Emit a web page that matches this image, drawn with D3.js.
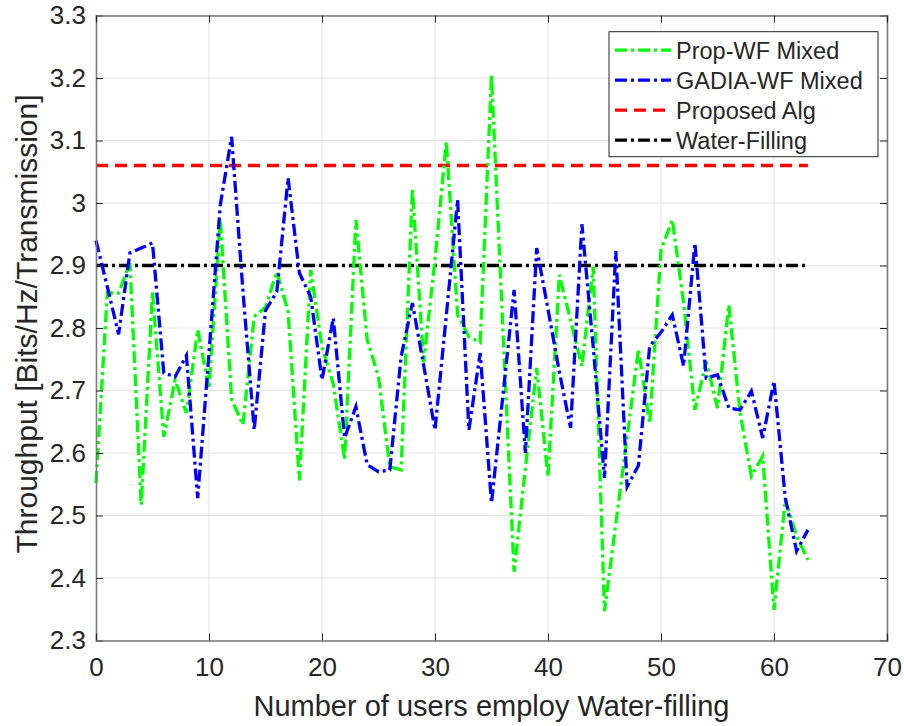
<!DOCTYPE html>
<html>
<head>
<meta charset="utf-8">
<script src="https://cdn.jsdelivr.net/npm/d3@7"></script>
<style>
  body { margin: 0; background: #fff; }
  text { font-family: "Liberation Sans", Arial, Helvetica, sans-serif; fill: #262626; }
</style>
</head>
<body>
<div id="chart"></div>
<script>
// data
var users = d3.range(0, 64);
var propWF = [2.552, 2.856, 2.856, 2.904, 2.517, 2.858, 2.626, 2.717, 2.664, 2.797,
  2.703, 2.973, 2.686, 2.645, 2.818, 2.833, 2.890, 2.826, 2.556, 2.893,
  2.770, 2.710, 2.590, 2.973, 2.781, 2.722, 2.578, 2.573, 3.022, 2.745,
  2.910, 3.098, 2.821, 2.786, 2.777, 3.205, 2.800, 2.410, 2.576, 2.736,
  2.562, 2.885, 2.812, 2.739, 2.898, 2.347, 2.487, 2.625, 2.766, 2.647,
  2.925, 2.973, 2.840, 2.669, 2.747, 2.672, 2.837, 2.664, 2.563, 2.595,
  2.349, 2.525, 2.467, 2.429];
var gadiaWF = [2.940, 2.866, 2.790, 2.920, 2.928, 2.936, 2.728, 2.722, 2.756, 2.528,
  2.760, 2.997, 3.106, 2.860, 2.637, 2.828, 2.858, 3.040, 2.888, 2.850,
  2.717, 2.816, 2.624, 2.674, 2.581, 2.570, 2.573, 2.754, 2.840, 2.740,
  2.637, 2.820, 3.005, 2.637, 2.760, 2.520, 2.690, 2.861, 2.600, 2.928,
  2.830, 2.730, 2.640, 2.966, 2.770, 2.560, 2.923, 2.546, 2.580, 2.771,
  2.793, 2.821, 2.739, 2.936, 2.720, 2.725, 2.672, 2.669, 2.699, 2.624,
  2.715, 2.528, 2.443, 2.477];
var proposedAlg = 3.06;
var waterFilling = 2.90;

var xTicks = [0, 10, 20, 30, 40, 50, 60, 70];
var yTicks = [2.3, 2.4, 2.5, 2.6, 2.7, 2.8, 2.9, 3.0, 3.1, 3.2, 3.3];

var seriesNames = ["Prop-WF Mixed", "GADIA-WF Mixed", "Proposed Alg", "Water-Filling"];
var seriesColors = ["#00ff00", "#0000ff", "#ff0000", "#000000"];
var seriesDash = ["12,4,3,4", "12,4,3,4", "12,7", "12,4,3,4"];

var svgWidth = 904;
var svgHeight = 726;
var margin = { top: 15.5, right: 17, bottom: 85.5, left: 96 };
var width = svgWidth - margin.left - margin.right;
var height = svgHeight - margin.top - margin.bottom;

var svg = d3.select("#chart")
  .append("svg")
  .attr("width", svgWidth)
  .attr("height", svgHeight);

var g = svg.append("g")
  .attr("transform", `translate(${margin.left}, ${margin.top})`);

var xScale = d3.scaleLinear().domain([0, 70]).range([0, width]);
var yScale = d3.scaleLinear().domain([2.3, 3.3]).range([height, 0]);

// grid
g.append("g").selectAll("line.gx")
  .data(xTicks)
  .enter().append("line")
  .attr("x1", d => xScale(d)).attr("x2", d => xScale(d))
  .attr("y1", 0).attr("y2", height)
  .attr("stroke", "#e3e3e3").attr("stroke-width", 1);
g.append("g").selectAll("line.gy")
  .data(yTicks)
  .enter().append("line")
  .attr("x1", 0).attr("x2", width)
  .attr("y1", d => yScale(d)).attr("y2", d => yScale(d))
  .attr("stroke", "#e3e3e3").attr("stroke-width", 1);

// series
var line = d3.line()
  .x((d, i) => xScale(users[i]))
  .y(d => yScale(d));

var flat = users.map(() => proposedAlg);
var flatWF = users.map(() => waterFilling);
var allSeries = [propWF, gadiaWF, flat, flatWF];

[2, 3, 0, 1].forEach(function(k) {
  g.append("path")
    .datum(allSeries[k])
    .attr("d", line)
    .attr("fill", "none")
    .attr("stroke", seriesColors[k])
    .attr("stroke-width", 3.3)
    .attr("stroke-dasharray", seriesDash[k]);
});

// axes with ticks pointing inward
var fmt = d => String(+d.toFixed(1));

var yAxis = g.append("g")
  .call(d3.axisLeft(yScale).tickValues(yTicks).tickSize(-7).tickPadding(10).tickFormat(fmt));
var yAxisR = g.append("g")
  .attr("transform", `translate(${width}, 0)`)
  .call(d3.axisRight(yScale).tickValues(yTicks).tickSize(-7).tickFormat(""));
var xAxis = g.append("g")
  .attr("transform", `translate(0, ${height})`)
  .call(d3.axisBottom(xScale).tickValues(xTicks).tickSize(-7).tickPadding(17).tickFormat(d => d));
var xAxisT = g.append("g")
  .call(d3.axisTop(xScale).tickValues(xTicks).tickSize(-7).tickFormat(""));

[yAxis, yAxisR, xAxis, xAxisT].forEach(function(a) {
  a.select(".domain").attr("stroke", "#7a7a7a").attr("stroke-width", 1.5);
  a.selectAll(".tick line").attr("stroke", "#262626");
  a.selectAll(".tick text")
    .attr("font-size", 26)
    .attr("font-family", "Liberation Sans, Arial, sans-serif")
    .attr("fill", "#262626");
});

// labels
svg.append("text")
  .attr("x", margin.left + width / 2)
  .attr("y", 716)
  .attr("text-anchor", "middle")
  .attr("font-size", 29)
  .text("Number of users employ Water-filling");

svg.append("text")
  .attr("transform", `translate(37, ${margin.top + height / 2 - 4}) rotate(-90)`)
  .attr("text-anchor", "middle")
  .attr("font-size", 30)
  .text("Throughput [Bits/Hz/Transmission]");

// legend
var legend = svg.append("g").attr("transform", "translate(609, 31.7)");
legend.append("rect")
  .attr("width", 269).attr("height", 125)
  .attr("fill", "#fff")
  .attr("stroke", "#262626")
  .attr("stroke-width", 1);

var rows = legend.selectAll("g.row")
  .data(seriesNames)
  .enter().append("g")
  .attr("transform", (d, i) => `translate(0, ${18.5 + i * 30})`);

rows.append("line")
  .attr("x1", 6).attr("x2", 62)
  .attr("y1", 0).attr("y2", 0)
  .attr("stroke", (d, i) => seriesColors[i])
  .attr("stroke-width", 3.3)
  .attr("stroke-dasharray", (d, i) => seriesDash[i]);

rows.append("text")
  .attr("x", 67)
  .attr("y", 8.5)
  .attr("font-size", 23.5)
  .attr("fill", "#000")
  .text(d => d);
</script>
</body>
</html>
